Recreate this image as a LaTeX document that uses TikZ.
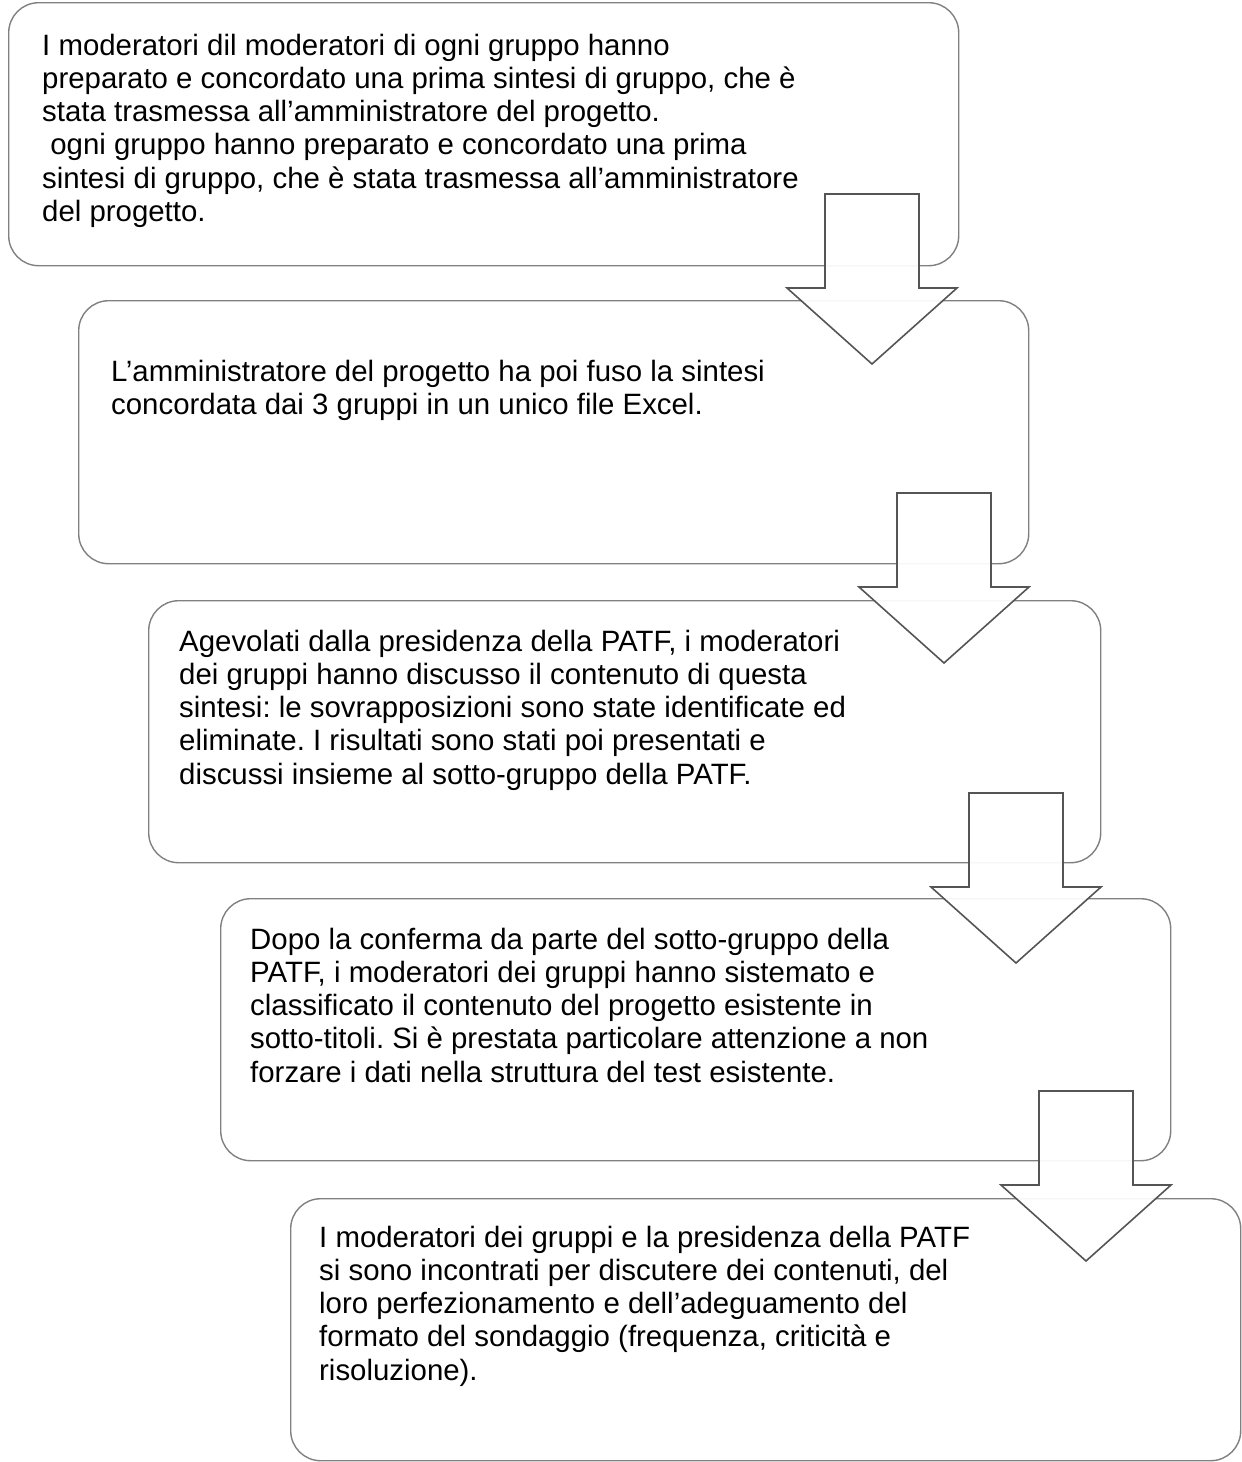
\documentclass[tikz,border=0pt]{standalone}
\usepackage{fontspec}
\setmainfont{Liberation Sans}
\frenchspacing
\definecolor{boxline}{RGB}{128,128,128}
\definecolor{arrline}{RGB}{85,85,85}
\tikzset{
  stepbox/.style={draw=boxline, line width=1.4pt, rounded corners=30pt, fill=none, inner sep=0pt, anchor=north west},
  steptext/.style={anchor=base west, inner sep=0pt, font=\fontsize{29.4}{33.3}\selectfont},
  downarrow/.pic={
    \draw[draw=arrline, line width=1.6pt, fill=white, fill opacity=0.93, line join=miter]
      (-47,0) -- (47,0) -- (47,94) -- (85,94) -- (0,170) -- (-85,94) -- (-47,94) -- cycle;
  }
}
\newcommand{\lines}[1]{\begin{tabular}[t]{@{}l@{}}#1\end{tabular}}
\begin{document}
\begin{tikzpicture}[x=1pt,y=-1pt]
\useasboundingbox (0,0) rectangle (1242,1462);
\node[stepbox, minimum width=950pt, minimum height=263pt] (b1) at (8,2) {};
\node[stepbox, minimum width=950pt, minimum height=263pt] (b2) at (78,300) {};
\node[stepbox, minimum width=952pt, minimum height=262pt] (b3) at (148,600) {};
\node[stepbox, minimum width=950pt, minimum height=262pt] (b4) at (220,898) {};
\node[stepbox, minimum width=950pt, minimum height=262pt] (b5) at (290,1198) {};

\node[steptext] (t1) at (42,55) {\lines{I moderatori dil moderatori di ogni gruppo hanno\\
preparato e concordato una prima sintesi di gruppo, che è\\
stata trasmessa all’amministratore del progetto.\\
\hspace*{0.278em}ogni gruppo hanno preparato e concordato una prima\\
sintesi di gruppo, che è stata trasmessa all’amministratore\\
del progetto.}};
\node[steptext] (t2) at (111,381) {\lines{L’amministratore del progetto ha poi fuso la sintesi\\
concordata dai 3 gruppi in un unico file Excel.}};
\node[steptext] (t3) at (179,651) {\lines{Agevolati dalla presidenza della PATF, i moderatori\\
dei gruppi hanno discusso il contenuto di questa\\
sintesi: le sovrapposizioni sono state identificate ed\\
eliminate. I risultati sono stati poi presentati e\\
discussi insieme al sotto-gruppo della PATF.}};
\node[steptext] (t4) at (250,949) {\lines{Dopo la conferma da parte del sotto-gruppo della\\
PATF, i moderatori dei gruppi hanno sistemato e\\
classificato il contenuto del progetto esistente in\\
sotto-titoli. Si è prestata particolare attenzione a non\\
forzare i dati nella struttura del test esistente.}};
\node[steptext] (t5) at (319,1247) {\lines{I moderatori dei gruppi e la presidenza della PATF\\
si sono incontrati per discutere dei contenuti, del\\
loro perfezionamento e dell’adeguamento del\\
formato del sondaggio (frequenza, criticità e\\
risoluzione).}};

\pic at (872,194) {downarrow};
\pic at (944,493) {downarrow};
\pic at (1016,793) {downarrow};
\pic at (1086,1091) {downarrow};
\end{tikzpicture}
\end{document}
